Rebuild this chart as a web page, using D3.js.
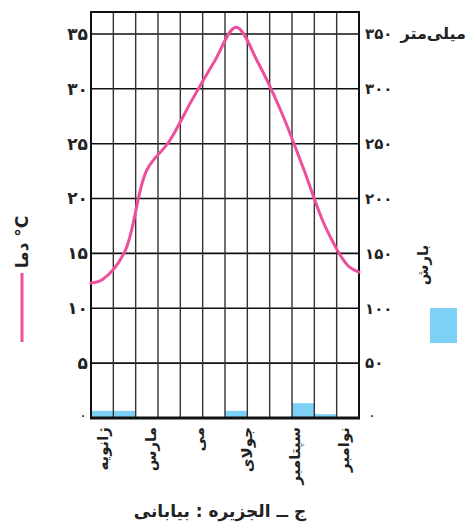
<!DOCTYPE html>
<html><head><meta charset="utf-8">
<script src="https://cdn.jsdelivr.net/npm/d3@7"></script>
<style>body{margin:0;background:#fff;}svg{display:block;font-family:"DejaVu Sans",sans-serif;}</style>
</head><body><svg id="c" width="469" height="527"></svg>
<script>
const months = ["Jan","Feb","Mar","Apr","May","Jun","Jul","Aug","Sep","Oct","Nov","Dec"];
const temperature = [12.6,15.1,22.6,25.2,28.9,32.4,35.6,32.3,28.0,22.8,17.4,13.9];
const tempStart = 12.3, tempEnd = 13.3;
const precipitation = [6.5,6.5,0,0,0,0,6.5,0,0,13.5,3.5,0];
const monthLabels = [["ژانویه",0],["مارس",2],["می",4],["جولای",6],["سپتامبر",8],["نوامبر",10]];
const leftTicks = [5,10,15,20,25,30,35];
const leftTickText = ["۵","۱۰","۱۵","۲۰","۲۵","۳۰","۳۵"];
const rightTicks = [50,100,150,200,250,300,350];
const rightTickText = ["۵۰","۱۰۰","۱۵۰","۲۰۰","۲۵۰","۳۰۰","۳۵۰"];
const title = "ج ــ الجزیره : بیابانی";

const svg = d3.select("#c");
const L=91,R=359,T=12,B=418;
const x = d3.scaleBand().domain(months).range([L,R]).paddingInner(0).paddingOuter(0);
const xEdge = d3.scaleLinear().domain([0,12]).range([L,R]);
const y = d3.scaleLinear().domain([0,37]).range([B,T]);
const yP = d3.scaleLinear().domain([0,370]).range([B,T]);
const labelX = d3.scaleLinear().domain([0,10]).range([x("Jan")+x.bandwidth()/2+1, x("Nov")+x.bandwidth()/2+18]);

// bars
svg.append("g").selectAll("rect").data(precipitation).join("rect")
  .attr("x",(d,i)=>x(months[i])).attr("width",x.bandwidth())
  .attr("y",d=>yP(d)).attr("height",d=>B-yP(d)).attr("fill","#7dd1f5");

// grid
const g = svg.append("g").attr("stroke","#111").attr("fill","none");
g.selectAll("line.h").data(leftTicks).join("line").attr("class","h")
  .attr("x1",L).attr("x2",R).attr("y1",d=>y(d)).attr("y2",d=>y(d)).attr("stroke-width",1.6);
g.selectAll("line.v").data(d3.range(1,12)).join("line").attr("class","v")
  .attr("x1",d=>xEdge(d)).attr("x2",d=>xEdge(d)).attr("y1",T).attr("y2",B).attr("stroke-width",1.4).attr("stroke","#333");
g.append("rect").attr("x",L).attr("y",T).attr("width",R-L).attr("height",B-T).attr("stroke-width",2);
g.append("line").attr("x1",L-1).attr("x2",R+1).attr("y1",B).attr("y2",B).attr("stroke-width",3);

// temperature curve
const pts = [[L,tempStart]].concat(temperature.map((t,i)=>[x(months[i])+x.bandwidth()/2,t])).concat([[R,tempEnd]]);
svg.append("path").datum(pts)
  .attr("d",d3.line().x(d=>d[0]).y(d=>y(d[1])).curve(d3.curveCatmullRom.alpha(0.5)))
  .attr("fill","none").attr("stroke","#ee4f9c").attr("stroke-width",3).attr("stroke-linecap","round");

// left axis labels
svg.append("g").selectAll("text").data(leftTicks).join("text")
  .attr("x",L-3).attr("y",d=>y(d)).attr("dy","0.35em").attr("text-anchor","end")
  .attr("font-size",17).attr("font-weight","bold").attr("fill","#222")
  .text((d,i)=>leftTickText[i]);
svg.append("text").attr("x",L-8).attr("y",y(0)).attr("dy","0.1em").attr("text-anchor","middle")
  .attr("font-size",15).attr("fill","#222").text("۰");
// right axis labels
svg.append("g").selectAll("text").data(rightTicks).join("text")
  .attr("x",R+6).attr("y",d=>yP(d)).attr("dy","0.35em").attr("text-anchor","start")
  .attr("font-size",15).attr("font-weight","bold").attr("fill","#222")
  .text((d,i)=>rightTickText[i]);
svg.append("text").attr("x",R+13).attr("y",yP(0)).attr("dy","0.1em").attr("text-anchor","middle")
  .attr("font-size",15).attr("fill","#222").text("۰");
svg.append("text").attr("x",466).attr("y",yP(350)).attr("dy","0.3em").attr("text-anchor","end")
  .attr("font-size",16).attr("font-weight","bold").attr("fill","#222").text("میلی‌متر");

// month labels
svg.append("g").selectAll("text").data(monthLabels).join("text")
  .attr("transform",d=>`translate(${labelX(d[1])+5},${B+9}) rotate(-90)`)
  .attr("text-anchor","end").attr("font-size",15).attr("font-weight","bold").attr("fill","#222")
  .text(d=>d[0]);

// legends
svg.append("text").attr("transform","translate(28,242) rotate(-90)").attr("text-anchor","middle")
  .attr("font-size",17).attr("font-weight","bold").attr("fill","#222").text("دما °C");
svg.append("line").attr("x1",22).attr("x2",22).attr("y1",273).attr("y2",342)
  .attr("stroke","#ee4f9c").attr("stroke-width",3);
svg.append("text").attr("transform","translate(428,265) rotate(-90)").attr("text-anchor","middle")
  .attr("font-size",15).attr("font-weight","bold").attr("fill","#222").text("بارش");
svg.append("rect").attr("x",430).attr("y",308).attr("width",27).attr("height",35).attr("fill","#7dd1f5");

// title
svg.append("text").attr("x",220).attr("y",517).attr("text-anchor","middle")
  .attr("font-size",17).attr("font-weight","bold").attr("fill","#222").text(title);
</script></body></html>
